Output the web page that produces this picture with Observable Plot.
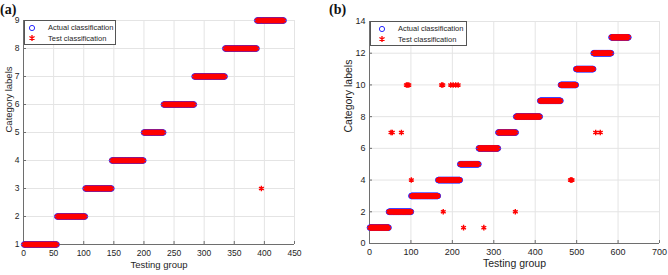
<!DOCTYPE html>
<html><head><meta charset="utf-8">
<script src="https://cdn.jsdelivr.net/npm/d3@7"></script>
<script src="https://cdn.jsdelivr.net/npm/@observablehq/plot@0.6"></script>
<style>
body{margin:0;background:#fff;}
#wrap{position:relative;width:668px;height:275px;overflow:hidden;font-family:"Liberation Sans",Arial,sans-serif;background:#fff;}
.panel{position:absolute;top:0;}
.tag{position:absolute;font-family:"Liberation Serif","Times New Roman",serif;font-weight:bold;font-size:14px;line-height:1;color:#111;}
.legend{position:absolute;border:1px solid #555;background:#fff;font-size:7.5px;color:#1e1e1e;box-sizing:border-box;}
.legend svg{position:absolute;}
.legend span{position:absolute;white-space:nowrap;}
</style>
</head><body>
<div id="wrap"></div>
<script>
// ---------- Panel (a) data ----------
const aClasses = [1, 2, 3, 4, 5, 6, 7, 8, 9];
const aStart   = [1, 56, 103, 147, 200, 233, 284, 335, 388];
const aEnd     = [55, 102, 146, 199, 232, 283, 334, 387, 432];
const aMisIndex = [395];
const aMisLabel = [3];
const aXTicks = [0, 50, 100, 150, 200, 250, 300, 350, 400, 450];
const aYTicks = [1, 2, 3, 4, 5, 6, 7, 8, 9];

// ---------- Panel (b) data ----------
const bClasses = [1, 2, 3, 4, 5, 6, 7, 8, 9, 10, 11, 12, 13];
const bStart   = [1, 47, 101, 166, 219, 264, 311, 354, 412, 462, 499, 541, 584];
const bEnd     = [46, 100, 165, 218, 263, 310, 353, 411, 461, 498, 540, 583, 625];
const bMisIndex = [52, 55, 77, 89, 92, 95, 174, 177, 196, 202, 208, 214, 101, 485, 487, 489, 178, 352, 227, 276, 546, 557];
const bMisLabel = [7, 7, 7, 10, 10, 10, 10, 10, 10, 10, 10, 10, 4, 4, 4, 4, 2, 2, 1, 1, 7, 7];
const bXTicks = [0, 100, 200, 300, 400, 500, 600, 700];
const bYTicks = [0, 2, 4, 6, 8, 10, 12, 14];

const legendLabels = ["Actual classification", "Test classification"];
const BLUE = "#2a2aff", RED = "#ff0000", TEXT = "#1e1e1e";

function buildData(classes, starts, ends, misIndex, misLabel) {
  const actual = [];
  classes.forEach((c, i) => { for (let k = starts[i]; k <= ends[i]; k++) actual.push({idx: k, label: c}); });
  const mis = new Map(misIndex.map((m, j) => [m, misLabel[j]]));
  const test = actual.map(d => ({idx: d.idx, label: mis.has(d.idx) ? mis.get(d.idx) : d.label}));
  return {actual, test};
}

function makePanel(o) {
  const {actual, test} = buildData(o.classes, o.starts, o.ends, o.misIndex, o.misLabel);
  const yMin = o.yTicks[0], yMax = o.yTicks[o.yTicks.length - 1];
  const xMax = o.xTicks[o.xTicks.length - 1];
  return Plot.plot({
    width: o.width, height: o.height,
    marginLeft: o.ml, marginRight: o.mr, marginTop: o.mt, marginBottom: o.mb,
    style: {fontFamily: '"Liberation Sans", Arial, sans-serif', fontSize: o.tickFont + "px", color: TEXT, background: "transparent", overflow: "visible"},
    x: {domain: [0, xMax], label: null},
    y: {domain: [yMin, yMax], label: null},
    marks: [
      Plot.gridX(o.xTicks, {stroke: "#e4e4e4", strokeOpacity: 1}),
      Plot.gridY(o.yTicks, {stroke: "#e4e4e4", strokeOpacity: 1}),
      Plot.ruleX([0], {stroke: "#6e6e6e", strokeWidth: 1}),
      Plot.ruleY([yMin], {stroke: "#6e6e6e", strokeWidth: 1}),
      Plot.axisX(o.xTicks, {tickSize: -3, tickPadding: 8, stroke: "#6e6e6e", fill: TEXT, label: null}),
      Plot.axisY(o.yTicks, {tickSize: -3, tickPadding: 7, stroke: "#6e6e6e", fill: TEXT, label: null}),
      Plot.dot(actual, {x: "idx", y: "label", r: 2.8, stroke: BLUE, strokeWidth: 0.9, fill: "none"}),
      Plot.dot(test, {x: "idx", y: "label", symbol: "asterisk", r: 2.6, stroke: RED, strokeWidth: 1.4}),
      Plot.text(["Testing group"], {frameAnchor: "bottom", dy: o.xlDy, fontSize: o.labelFont, fill: TEXT}),
      Plot.text(["Category labels"], {frameAnchor: "left", rotate: -90, dx: o.ylDx, fontSize: o.labelFont, fill: TEXT})
    ]
  });
}

function makeLegend(box) {
  const lg = document.createElement("div");
  lg.className = "legend";
  Object.assign(lg.style, {left: box.left + "px", top: box.top + "px", width: box.w + "px", height: box.h + "px"});
  legendLabels.forEach((lab, i) => {
    const cy = box.rows[i] - box.top;
    const svg = document.createElementNS("http://www.w3.org/2000/svg", "svg");
    svg.setAttribute("width", 10); svg.setAttribute("height", 10);
    svg.style.left = (box.mx - box.left - 5 - 1) + "px";
    svg.style.top = (cy - 5 - 1) + "px";
    if (i === 0) {
      svg.innerHTML = `<circle cx="5" cy="5" r="2.6" fill="none" stroke="${BLUE}" stroke-width="1"/>`;
    } else {
      svg.innerHTML = `<path d="M5,2V8M2.4,3.5L7.6,6.5M2.4,6.5L7.6,3.5" stroke="${RED}" stroke-width="1.3" fill="none"/>`;
    }
    lg.appendChild(svg);
    const sp = document.createElement("span");
    sp.textContent = lab;
    sp.style.left = (box.tx - box.left - 1) + "px";
    sp.style.top = (cy - 4.5 - 1) + "px";
    sp.style.lineHeight = "9px";
    lg.appendChild(sp);
  });
  return lg;
}

const wrap = document.getElementById("wrap");

const pa = makePanel({classes: aClasses, starts: aStart, ends: aEnd, misIndex: aMisIndex, misLabel: aMisLabel,
  xTicks: aXTicks, yTicks: aYTicks, width: 334, height: 275, ml: 23, mr: 40, mt: 20, mb: 31,
  tickFont: 8.5, labelFont: 9.5, xlDy: 23.5, ylDx: -14.5});
pa.classList.add("panel"); pa.style.left = "0px";
wrap.appendChild(pa);

const pb = makePanel({classes: bClasses, starts: bStart, ends: bEnd, misIndex: bMisIndex, misLabel: bMisLabel,
  xTicks: bXTicks, yTicks: bYTicks, width: 334, height: 275, ml: 35, mr: 9, mt: 21, mb: 32,
  tickFont: 9, labelFont: 10.5, xlDy: 23.5, ylDx: -21});
pb.classList.add("panel"); pb.style.left = "334px";
wrap.appendChild(pb);

wrap.appendChild(makeLegend({left: 24, top: 20, w: 92, h: 25, rows: [27.5, 38], mx: 32, tx: 48}));
wrap.appendChild(makeLegend({left: 370, top: 21, w: 97, h: 25, rows: [28.5, 39], mx: 382, tx: 398}));

const ta = document.createElement("div"); ta.className = "tag"; ta.textContent = "(a)";
ta.style.left = "0px"; ta.style.top = "3px"; wrap.appendChild(ta);
const tb = document.createElement("div"); tb.className = "tag"; tb.textContent = "(b)";
tb.style.left = "329px"; tb.style.top = "3px"; wrap.appendChild(tb);
</script>
</body></html>
